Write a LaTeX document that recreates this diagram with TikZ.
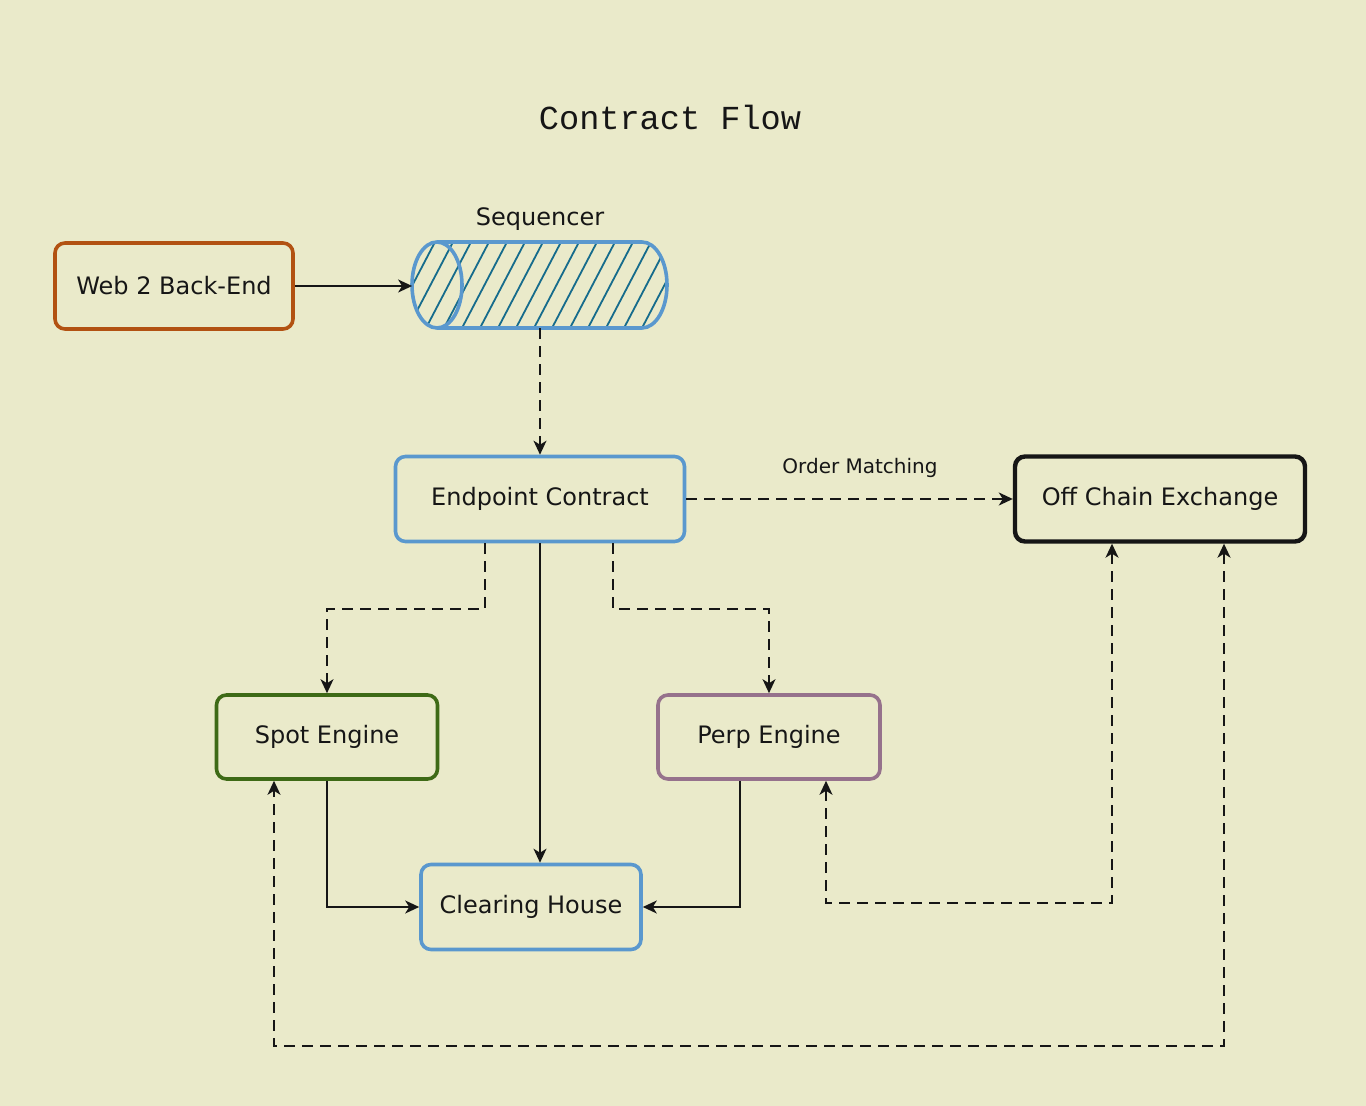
\documentclass[tikz,border=0pt]{standalone}
\usepackage{fontspec}
\setmainfont{DejaVu Sans}
\newfontfamily\titlefont{Liberation Mono}
\usetikzlibrary{arrows.meta}
\definecolor{bgc}{RGB}{234,234,202}
\definecolor{webc}{RGB}{178,82,18}
\definecolor{bluec}{RGB}{90,152,206}
\definecolor{hatchc}{RGB}{22,108,140}
\definecolor{spotc}{RGB}{62,106,22}
\definecolor{perpc}{RGB}{150,114,140}
\definecolor{inkc}{RGB}{22,22,22}

\begin{document}
\begin{tikzpicture}[x=.5pt,y=-.5pt,
  box/.style={draw=#1,line width=1.8pt,rounded corners=5pt,inner sep=0pt,text=inkc,font=\fontsize{12}{14}\selectfont},
  conn/.style={draw=inkc,line width=.9pt,-{Stealth[length=7pt,width=6.5pt,inset=2pt]}},
  dline/.style={conn,dash pattern=on 5.5pt off 3.5pt},
  both/.style={{Stealth[length=7pt,width=6.5pt,inset=2pt]}-{Stealth[length=7pt,width=6.5pt,inset=2pt]}}]
\fill[bgc] (0,0) rectangle (1366,1106);
\useasboundingbox (0,0) rectangle (1366,1106);
\node[text=inkc,font=\titlefont\fontsize{16.8}{18}\selectfont] (title) at (670,117){Contract Flow};
\node[box=webc,minimum width=119pt,minimum height=43pt] (web) at (174,286){Web 2 Back-End};
\node[minimum width=127.5pt,minimum height=43pt,inner sep=0pt] (seq) at (540,285){};
\begin{scope}
\clip (437,242) -- (642,242) arc[start angle=-90,end angle=90,x radius=25,y radius=43] -- (437,328) arc[start angle=90,end angle=270,x radius=25,y radius=43];
\foreach \x in {300,318,...,680}\draw[hatchc,line width=.9pt] (\x,328)--(\x+45,242);
\end{scope}
\draw[bluec,line width=1.8pt] (437,242) -- (642,242) arc[start angle=-90,end angle=90,x radius=25,y radius=43] -- (437,328);
\draw[bluec,line width=1.8pt] (437,285) ellipse[x radius=25,y radius=43];
\node[text=inkc,font=\fontsize{12}{14}\selectfont,above=2pt] (seqlbl) at (seq.north){Sequencer};
\node[box=bluec,minimum width=144.5pt,minimum height=42.5pt] (endp) at (540,499){Endpoint Contract};
\node[box=inkc,line width=2.2pt,minimum width=145pt,minimum height=42.5pt] (offc) at (1160,499){Off Chain Exchange};
\node[box=spotc,minimum width=110.5pt,minimum height=42pt] (spot) at (327,737){Spot Engine};
\node[box=perpc,minimum width=111pt,minimum height=42pt] (perp) at (769,737){Perp Engine};
\node[box=bluec,minimum width=110pt,minimum height=42.5pt] (clr) at (531,907){Clearing House};
\node[text=inkc,font=\fontsize{10}{12}\selectfont] (ordm) at (860,468){Order Matching};
\draw[conn] (web.east) -- (seq.west |- web.east);
\draw[dline] (seq.south) -- (endp.north);
\draw[dline] (endp.east) -- (offc.west);
\draw[dline] (485,0 |- endp.south) -- (485,609) -| (spot.north);
\draw[dline] (613,0 |- endp.south) -- (613,609) -| (perp.north);
\draw[conn] (540,0 |- endp.south) -- (540,0 |- clr.north);
\draw[conn] (spot.south) |- (clr.west);
\draw[conn] (740,0 |- perp.south) |- (clr.east);
\draw[dline,both] (1112,0 |- offc.south) |- (826,903) -- (826,0 |- perp.south);
\draw[dline,both] (1224,0 |- offc.south) |- (274,1046) -- (274,0 |- spot.south);
\end{tikzpicture}
\end{document}
